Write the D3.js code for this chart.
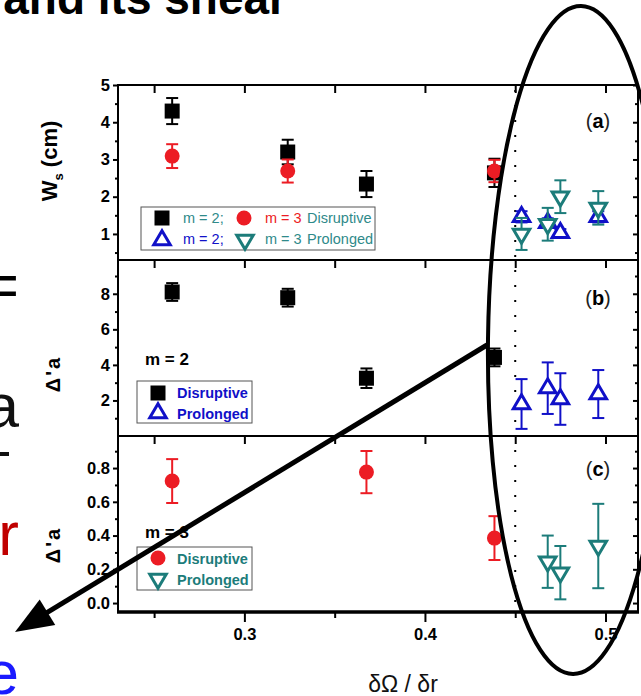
<!DOCTYPE html>
<html><head><meta charset="utf-8">
<script src="https://cdn.jsdelivr.net/npm/d3@7"></script>
<style>
  body { margin: 0; background: #fff; }
  svg { display: block; }
  text { font-family: "Liberation Sans", Arial, sans-serif; }
</style>
</head><body>
<svg id="chart" width="641" height="696"></svg>
<script>
// ---- data -------------------------------------------------------------
// flow shear δΩ/δr of each discharge
const xM2Disruptive = [0.26, 0.324, 0.3676, 0.4385];
const xM3DisruptiveWs = [0.26, 0.324, 0.4385];
const xM3DisruptiveDa = [0.26, 0.3676, 0.4385];
const xM2Prolonged = [0.4535, 0.468, 0.475, 0.496];
const xM3ProlongedWs = [0.4535, 0.468, 0.475, 0.496];
const xM3ProlongedDa = [0.468, 0.475, 0.496];

// (a) saturated island width Ws (cm)
const wsM2Disruptive = [4.3, 3.2, 2.34, 2.64];
const wsM2DisruptiveErr = [0.35, 0.33, 0.35, 0.38];
const wsM3Disruptive = [3.09, 2.69, 2.69];
const wsM3DisruptiveErr = [0.32, 0.31, 0.3];
const wsM2Prolonged = [1.46, 1.3, 1.03, 1.46];
const wsM2ProlongedErr = [0.15, 0.12, 0.1, 0.15];
const wsM3Prolonged = [1.0, 1.26, 2.0, 1.7];
const wsM3ProlongedErr = [0.43, 0.44, 0.44, 0.45];

// (b) Δ'a for m = 2
const daM2Disruptive = [8.1, 7.78, 3.25, 4.42];
const daM2DisruptiveErr = [0.5, 0.5, 0.55, 0.5];
const daM2Prolonged = [1.8, 2.69, 2.08, 2.36];
const daM2ProlongedErr = [1.4, 1.45, 1.45, 1.35];

// (c) Δ'a for m = 3
const daM3Disruptive = [0.723, 0.776, 0.385];
const daM3DisruptiveErr = [0.13, 0.125, 0.13];
const daM3Prolonged = [0.245, 0.18, 0.338];
const daM3ProlongedErr = [0.155, 0.158, 0.25];

// axis ticks
const xMajorTicks = [0.3, 0.4, 0.5];
const xMinorTicks = [0.25, 0.35, 0.45];
const xAllTicks = [0.25, 0.3, 0.35, 0.4, 0.45, 0.5];
const wsTicks = [1, 2, 3, 4, 5];
const wsMinor = [0.5, 1.5, 2.5, 3.5, 4.5];
const da2Ticks = [2, 4, 6, 8];
const da2Minor = [1, 3, 5, 7, 9];
const da3Ticks = [0.0, 0.2, 0.4, 0.6, 0.8];
const da3Minor = [0.1, 0.3, 0.5, 0.7, 0.9];
const shearThreshold = 0.45;

// ---- styles -------------------------------------------------------------
const BLACK = "#000", RED = "#ec1c24", BLUE = "#1010c8", TEAL = "#1c7c7a", LTEAL = "#2f8a8a";

const svg = d3.select("#chart");
const X0 = 118, X1 = 638;
const x = d3.scaleLinear().domain([0.23, 0.518]).range([X0, X1]);

const panels = [
  { label: "a", top: 85, bottom: 260, domain: [0.3, 5], ticks: wsTicks, minor: wsMinor, fmt: d3.format("d") },
  { label: "b", top: 260, bottom: 436, domain: [0, 9.9], ticks: da2Ticks, minor: da2Minor, fmt: d3.format("d") },
  { label: "c", top: 436, bottom: 612, domain: [-0.053, 0.99], ticks: da3Ticks, minor: da3Minor, fmt: d3.format(".1f") }
];
panels.forEach(p => { p.y = d3.scaleLinear().domain(p.domain).range([p.bottom, p.top]); });

function styleAxis(g, labels) {
  g.select(".domain").remove();
  g.selectAll(".tick line").attr("stroke", BLACK).attr("stroke-width", 2);
  if (labels) {
    g.selectAll(".tick text").attr("font-size", 16.5).attr("font-weight", "bold")
      .attr("fill", BLACK).attr("font-family", "Liberation Sans, Arial, sans-serif");
  } else {
    g.selectAll(".tick text").remove();
  }
}

// ---- axes ---------------------------------------------------------------
panels.forEach(p => {
  // left: labelled majors + short minors, pointing outward
  svg.append("g").attr("transform", `translate(${X0},0)`)
    .call(d3.axisLeft(p.y).tickValues(p.ticks).tickSize(5).tickPadding(3).tickFormat(p.fmt))
    .call(g => styleAxis(g, true));
  svg.append("g").attr("transform", `translate(${X0},0)`)
    .call(d3.axisLeft(p.y).tickValues(p.minor).tickSize(3))
    .call(g => styleAxis(g, false));
  // right: inward ticks
  svg.append("g").attr("transform", `translate(${X1},0)`)
    .call(d3.axisLeft(p.y).tickValues(p.ticks).tickSize(5))
    .call(g => styleAxis(g, false));
  svg.append("g").attr("transform", `translate(${X1},0)`)
    .call(d3.axisLeft(p.y).tickValues(p.minor).tickSize(3))
    .call(g => styleAxis(g, false));
  // top of each panel: inward ticks
  svg.append("g").attr("transform", `translate(0,${p.top})`)
    .call(d3.axisBottom(x).tickValues(xAllTicks).tickSize(8))
    .call(g => styleAxis(g, false));
});

// bottom x axis
svg.append("g").attr("transform", "translate(0,612)")
  .call(d3.axisBottom(x).tickValues(xMajorTicks).tickSize(10).tickPadding(6).tickFormat(d3.format(".1f")))
  .call(g => styleAxis(g, true));
svg.append("g").attr("transform", "translate(0,612)")
  .call(d3.axisBottom(x).tickValues(xMinorTicks).tickSize(6))
  .call(g => styleAxis(g, false));

// frame and panel separators
svg.append("rect").attr("x", X0).attr("y", 85).attr("width", X1 - X0).attr("height", 612 - 85)
  .attr("fill", "none").attr("stroke", BLACK).attr("stroke-width", 2);
[260, 436].forEach(yy => svg.append("line").attr("x1", X0).attr("x2", X1).attr("y1", yy).attr("y2", yy)
  .attr("stroke", BLACK).attr("stroke-width", 2));
svg.append("line").attr("x1", X0 - 1).attr("x2", X1 + 1).attr("y1", 612).attr("y2", 612)
  .attr("stroke", BLACK).attr("stroke-width", 3.5);

// dotted threshold line
svg.append("line").attr("x1", x(shearThreshold)).attr("x2", x(shearThreshold))
  .attr("y1", 90).attr("y2", 610).attr("stroke", BLACK).attr("stroke-width", 2)
  .attr("stroke-dasharray", "2,13");

// ---- markers ------------------------------------------------------------
function marker(g, shape, color, cx, cy) {
  if (shape === "square") {
    g.append("rect").attr("x", cx - 7.5).attr("y", cy - 7.5).attr("width", 15).attr("height", 15).attr("fill", color);
  } else if (shape === "circle") {
    g.append("circle").attr("cx", cx).attr("cy", cy).attr("r", 7.5).attr("fill", color);
  } else {
    const w = 16.5, h = 14, s = shape === "up" ? 1 : -1;
    const pts = [[0, -s * h * 2 / 3], [w / 2, s * h / 3], [-w / 2, s * h / 3]];
    g.append("path").attr("d", "M" + pts.map(q => [cx + q[0], cy + q[1]].join(",")).join("L") + "Z")
      .attr("fill", "#fff").attr("stroke", color).attr("stroke-width", 3).attr("stroke-linejoin", "miter");
  }
}

function series(p, xs, ys, errs, shape, color) {
  const g = svg.append("g");
  xs.forEach((xv, i) => {
    const cx = x(xv), yLo = p.y(ys[i] - errs[i]), yHi = p.y(ys[i] + errs[i]);
    g.append("line").attr("x1", cx).attr("x2", cx).attr("y1", yLo).attr("y2", yHi)
      .attr("stroke", color).attr("stroke-width", 2);
    [yLo, yHi].forEach(yy => g.append("line").attr("x1", cx - 6).attr("x2", cx + 6)
      .attr("y1", yy).attr("y2", yy).attr("stroke", color).attr("stroke-width", 2));
  });
  xs.forEach((xv, i) => marker(g, shape, color, x(xv), p.y(ys[i])));
}

const [pa, pb, pc] = panels;
series(pa, xM2Disruptive, wsM2Disruptive, wsM2DisruptiveErr, "square", BLACK);
series(pa, xM3DisruptiveWs, wsM3Disruptive, wsM3DisruptiveErr, "circle", RED);
series(pa, xM2Prolonged, wsM2Prolonged, wsM2ProlongedErr, "up", BLUE);
series(pa, xM3ProlongedWs, wsM3Prolonged, wsM3ProlongedErr, "down", TEAL);
series(pb, xM2Disruptive, daM2Disruptive, daM2DisruptiveErr, "square", BLACK);
series(pb, xM2Prolonged, daM2Prolonged, daM2ProlongedErr, "up", BLUE);
series(pc, xM3DisruptiveDa, daM3Disruptive, daM3DisruptiveErr, "circle", RED);
series(pc, xM3ProlongedDa, daM3Prolonged, daM3ProlongedErr, "down", TEAL);

// ---- panel labels ------------------------------------------------------
[[pa, 128], [pb, 305], [pc, 476]].forEach(([p, by]) => {
  const t = svg.append("text").attr("x", 598).attr("y", by).attr("text-anchor", "middle")
    .attr("font-size", 20).attr("fill", "#222");
  t.append("tspan").text("(");
  t.append("tspan").attr("font-weight", "bold").attr("fill", BLACK).text(p.label);
  t.append("tspan").text(")");
});

// ---- axis titles --------------------------------------------------------
const ws = svg.append("text").attr("transform", "translate(57,161) rotate(-90)")
  .attr("text-anchor", "middle").attr("font-weight", "bold").attr("font-size", 22).attr("fill", BLACK);
ws.append("tspan").text("W");
ws.append("tspan").attr("font-size", 13).attr("dy", 6).text("s");
ws.append("tspan").attr("dy", -6).text(" (cm)");

[374, 545].forEach(cy => svg.append("text").attr("transform", `translate(60,${cy}) rotate(-90)`)
  .attr("text-anchor", "middle").attr("font-weight", "bold").attr("font-size", 20)
  .attr("letter-spacing", 2).attr("fill", BLACK).text("Δ'a"));

svg.append("text").attr("x", 403).attr("y", 692).attr("text-anchor", "middle")
  .attr("font-family", "Liberation Serif, Times New Roman, serif").attr("font-size", 23)
  .attr("fill", "#111").text("δΩ / δr");

// ---- legends --------------------------------------------------------------
function legText(tx, ty, str, color, opts = {}) {
  return svg.append("text").attr("x", tx).attr("y", ty).attr("fill", color)
    .attr("font-size", opts.size || 14.5).attr("font-weight", opts.bold ? "bold" : "normal").text(str);
}
function legBox(bx, by, bw, bh) {
  svg.append("rect").attr("x", bx).attr("y", by).attr("width", bw).attr("height", bh)
    .attr("fill", "#fff").attr("stroke", "#555").attr("stroke-width", 1);
  return svg.append("g");
}

// (a)
const lgA = legBox(141, 207, 234, 43);
marker(lgA, "square", BLACK, 162, 218);
marker(lgA, "circle", RED, 244, 218);
marker(lgA, "up", BLUE, 162, 240);
marker(lgA, "down", TEAL, 245, 240);
legText(183, 223, "m = 2;", LTEAL);
legText(265, 223, "m = 3", RED);
legText(307, 223, "Disruptive", LTEAL);
legText(183, 244, "m = 2;", BLUE);
legText(265, 244, "m = 3", LTEAL);
legText(307, 244, "Prolonged", LTEAL);

// (b)
legText(145, 365, "m = 2", BLACK, { bold: true, size: 17 });
const lgB = legBox(137, 381, 115, 42);
marker(lgB, "square", BLACK, 158, 393);
marker(lgB, "up", BLUE, 158, 413);
legText(177, 398, "Disruptive", BLUE, { bold: true, size: 14.5 });
legText(177, 419, "Prolonged", BLUE, { bold: true, size: 14.5 });

// (c)
legText(145, 538, "m = 3", BLACK, { bold: true, size: 17 });
const lgC = legBox(137, 547, 115, 43);
marker(lgC, "circle", RED, 158, 558);
marker(lgC, "down", TEAL, 158, 579);
legText(177, 564, "Disruptive", TEAL, { bold: true, size: 14.5 });
legText(177, 585, "Prolonged", TEAL, { bold: true, size: 14.5 });

// ---- surrounding slide text --------------------------------------------------
svg.append("text").attr("x", 287).attr("y", 14).attr("text-anchor", "end")
  .attr("font-size", 46).attr("font-weight", "bold").attr("fill", BLACK).text("and its shear");
const side = [["=", 306, BLACK], ["a", 427, "#111"], ["r", 555, "#c00000"], ["e", 694, "#1a1aff"]];
side.forEach(([s, by, c]) => svg.append("text").attr("x", 19).attr("y", by).attr("text-anchor", "end")
  .attr("font-size", 62).attr("fill", c).text(s));
// stroke fragment of a clipped slide glyph
svg.append("rect").attr("x", 0).attr("y", 452).attr("width", 9).attr("height", 4).attr("fill", "#111");

// ---- highlight ellipse and arrow ------------------------------------------------
svg.append("ellipse").attr("cx", 577).attr("cy", 340).attr("rx", 89).attr("ry", 334)
  .attr("transform", "rotate(0.7,577,340)")
  .attr("fill", "none").attr("stroke", BLACK).attr("stroke-width", 4);

const a0 = [487, 345], a1 = [15, 632];
const dx = a1[0] - a0[0], dy = a1[1] - a0[1], len = Math.hypot(dx, dy);
const ux = dx / len, uy = dy / len, headL = 38, headW = 15;
const base = [a1[0] - ux * headL, a1[1] - uy * headL];
svg.append("line").attr("x1", a0[0]).attr("y1", a0[1]).attr("x2", base[0] + ux * 4).attr("y2", base[1] + uy * 4)
  .attr("stroke", BLACK).attr("stroke-width", 5);
svg.append("path").attr("d", `M${a1[0]},${a1[1]}L${base[0] - uy * headW},${base[1] + ux * headW}L${base[0] + uy * headW},${base[1] - ux * headW}Z`)
  .attr("fill", BLACK);
</script>
</body></html>
